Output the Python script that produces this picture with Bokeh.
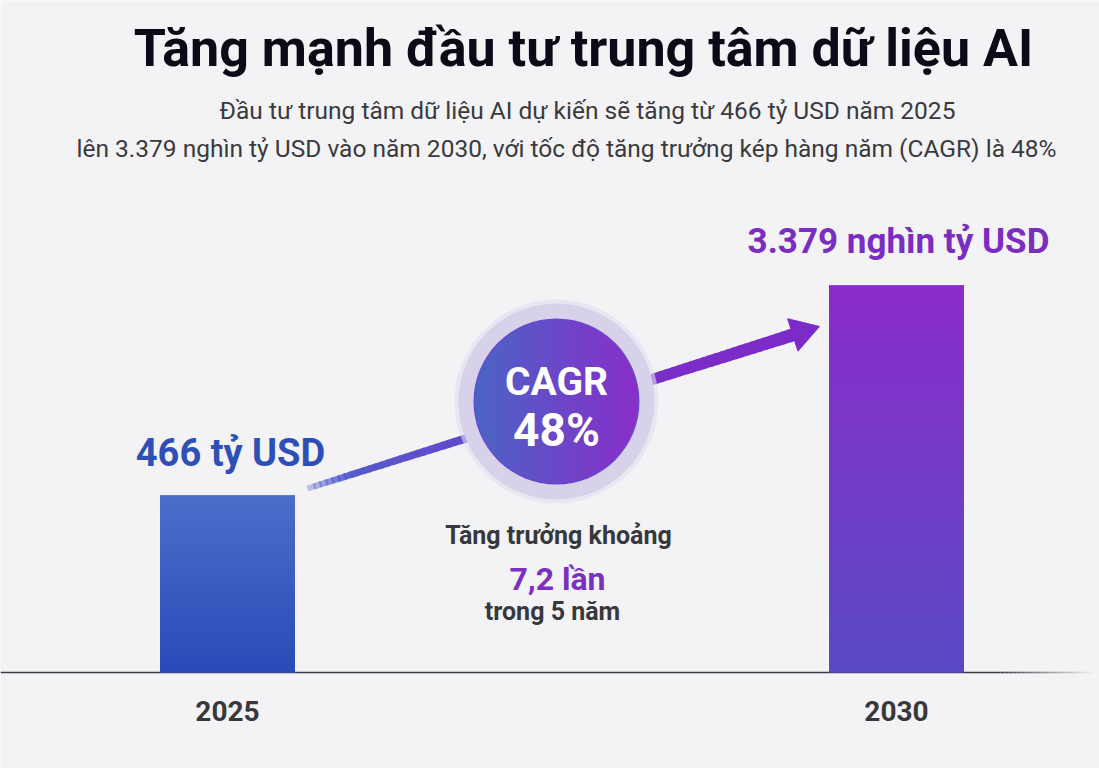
import numpy as np
from bokeh.plotting import figure
from bokeh.models import Range1d, LinearScale, LogScale
from bokeh.core.properties import value
from bokeh.embed import file_html
from bokeh.resources import INLINE

# ---- data -------------------------------------------------------------
years = ["2025", "2030"]
invest = [466, 3379]                      # tỷ USD
value_labels = ["466 tỷ USD", "3.379 nghìn tỷ USD"]
cagr_label = ["CAGR", "48%"]
growth_lines = ["Tăng trưởng khoảng", "7,2 lần", "trong 5 năm"]
title = "Tăng mạnh đầu tư trung tâm dữ liệu AI"
subtitle = [
    "Đầu tư trung tâm dữ liệu AI dự kiến sẽ tăng từ 466 tỷ USD năm 2025",
    "lên 3.379 nghìn tỷ USD vào năm 2030, với tốc độ tăng trưởng kép hàng năm (CAGR) là 48%",
]

# ---- layout / style ---------------------------------------------------
W, H = 1099, 768
BG = "#f3f3f5"
FONT = value("Roboto")
Y_FLOOR = 87.8                # common base of the bars on the log axis
Y_MIN, Y_MAX = 35.5, 49700
bar_x = [227, 896]
bar_w = 135
bar_top_colors = ["#4d6dca", "#8a2cc9"]
bar_bottom_colors = ["#2a4ab8", "#5a4ac4"]
label_colors = ["#2e4fb6", "#7a2dbf"]


def hex2rgb(c):
    c = c.lstrip("#")
    return np.array([int(c[i:i + 2], 16) for i in (0, 2, 4)], dtype=float)


def mix(c1, c2, t):
    r = hex2rgb(c1) * (1 - t) + hex2rgb(c2) * t
    return "#%02x%02x%02x" % tuple(int(round(v)) for v in r)


p = figure(width=W, height=H, x_range=Range1d(0, W), y_range=Range1d(Y_MIN, Y_MAX),
           y_axis_type="log", x_axis_location=None, y_axis_location=None,
           toolbar_location=None, output_backend="svg", min_border=0,
           background_fill_color=BG, border_fill_color=BG, outline_line_color=None)
p.y_scale = LogScale()
p.xgrid.visible = False
p.ygrid.visible = False
# pixel-like overlay range (top = 0) for annotations
p.extra_y_ranges = {"px": Range1d(H, 0)}
p.extra_y_scales = {"px": LinearScale()}

# ---- baseline ---------------------------------------------------------
base_y = 672
p.line(x=[0, 1000], y=[base_y, base_y], line_color="#3c3c44", line_width=1.6, y_range_name="px")
fade = np.linspace(1000, 1092, 24)
for k in range(len(fade) - 1):
    p.line(x=[fade[k], fade[k + 1]], y=[base_y, base_y], line_color="#3c3c44",
           line_alpha=1 - (k + 1) / len(fade), line_width=1.6, y_range_name="px")

# ---- bars (vertical gradient) ----------------------------------------
p.vbar(x=bar_x, width=bar_w, bottom=Y_FLOOR, top=invest,
       fill_color=[mix(a, b, 0.5) for a, b in zip(bar_top_colors, bar_bottom_colors)],
       line_color=None)
N = 60
qs = dict(left=[], right=[], bottom=[], top=[], color=[])
for xc, v, ct, cb in zip(bar_x, invest, bar_top_colors, bar_bottom_colors):
    edges = 10 ** np.linspace(np.log10(Y_FLOOR), np.log10(v), N + 1)
    for k in range(N):
        qs["left"].append(xc - bar_w / 2)
        qs["right"].append(xc + bar_w / 2)
        qs["bottom"].append(edges[k])
        qs["top"].append(edges[min(k + 2, N)])
        qs["color"].append(mix(cb, ct, (k + 0.5) / N))
p.quad(left="left", right="right", bottom="bottom", top="top", fill_color="color",
       line_color=None, source=qs)

# ---- growth arrow -----------------------------------------------------
S = np.array([307.0, 488.0])
T = np.array([819.0, 326.0])
u = (T - S) / np.linalg.norm(T - S)
nrm = np.array([-u[1], u[0]])
head_len, head_half = 28, 17
E = T - u * (head_len - 2)
M = 80
ts = np.linspace(0, 1, M + 1)
xs, ys, cols, alphas = [], [], [], []
for k in range(M):
    t0, t1 = ts[k], min(ts[k + 1] + 0.004, 1)
    a = S + (E - S) * t0
    b = S + (E - S) * t1
    wa, wb = 6 + 7 * t0, 6 + 7 * t1
    poly = [a + nrm * wa / 2, b + nrm * wb / 2, b - nrm * wb / 2, a - nrm * wa / 2]
    xs.append([q[0] for q in poly])
    ys.append([q[1] for q in poly])
    tm = (t0 + t1) / 2
    cols.append(mix("#5060cc", "#7b2cc8", min(1, tm * 1.3)))
    alphas.append(min(1.0, 0.3 + tm * 8))
p.patches(xs=xs, ys=ys, fill_color=cols, fill_alpha=alphas, line_color=None, y_range_name="px")
hb = T - u * head_len
p.patch(x=[T[0], hb[0] + nrm[0] * head_half, hb[0] - nrm[0] * head_half],
        y=[T[1], hb[1] + nrm[1] * head_half, hb[1] - nrm[1] * head_half],
        fill_color="#7b2cc8", line_color="#7b2cc8", line_width=1, y_range_name="px")

# ---- CAGR badge -------------------------------------------------------
cx, cy = 556, 401
p.circle(x=[cx], y=[cy], radius=102, fill_color="#e2ddf0", fill_alpha=0.6, line_color=None, y_range_name="px")
p.circle(x=[cx], y=[cy], radius=98, fill_color="#d8d1ea", line_color=None, y_range_name="px")
r_in = 83
p.circle(x=[cx], y=[cy], radius=r_in, fill_color="#6a48c8", line_color=None, y_range_name="px")
step = 1.5
rx, rw, rh, rc = [], [], [], []
xx = np.arange(cx - r_in + 1, cx + r_in - 1, step)
for x0 in xx:
    x1 = x0 + 2 * step
    d = max(abs(x0 - cx), abs(min(x1, cx + r_in) - cx))
    if d >= r_in - 0.8:
        continue
    h = np.sqrt((r_in - 0.8) ** 2 - d ** 2)
    rx.append((x0 + min(x1, cx + r_in)) / 2)
    rw.append(min(x1, cx + r_in) - x0)
    rh.append(2 * h)
    rc.append(mix("#4a64c6", "#8a2cc9", (x0 - (cx - r_in)) / (2 * r_in)))
p.rect(x=rx, y=[cy] * len(rx), width=rw, height=rh, fill_color=rc, line_color=None, y_range_name="px")

p.text(x=[cx], y=[381], text=[cagr_label[0]], text_font=FONT, text_font_style="bold",
       text_font_size="39px", text_color="white", text_align="center", text_baseline="middle",
       y_range_name="px")
p.text(x=[cx], y=[429], text=[cagr_label[1]], text_font=FONT, text_font_style="bold",
       text_font_size="46px", text_color="white", text_align="center", text_baseline="middle",
       y_range_name="px")

# ---- growth note ------------------------------------------------------
p.text(x=[558, 557, 552], y=[535, 578, 611], text=growth_lines, text_font=FONT,
       text_font_style="bold", text_font_size=["25px", "32px", "25px"],
       text_color=["#38383c", "#7b30c0", "#38383c"], text_align="center",
       text_baseline="middle", y_range_name="px")

# ---- value labels & category labels -----------------------------------
p.text(x=[230, 898], y=[452, 241], text=value_labels, text_font=FONT, text_font_style="bold",
       text_font_size=["38px", "35px"], text_color=label_colors, text_align="center",
       text_baseline="middle", y_range_name="px")
p.text(x=bar_x, y=[710, 710], text=years, text_font=FONT, text_font_style="bold",
       text_font_size="28px", text_color="#38383c", text_align="center",
       text_baseline="middle", y_range_name="px")

# ---- title & subtitle -------------------------------------------------
p.text(x=[583], y=[48], text=[title], text_font=FONT, text_font_style="bold",
       text_font_size="52px", text_color="#0b0b18", text_align="center",
       text_baseline="middle", y_range_name="px")
p.text(x=[587, 566], y=[110, 148], text=subtitle, text_font=FONT,
       text_font_size="24.5px", text_color="#3a3a3e", text_align="center",
       text_baseline="middle", y_range_name="px")

open("out.html", "w").write(file_html(p, INLINE))
